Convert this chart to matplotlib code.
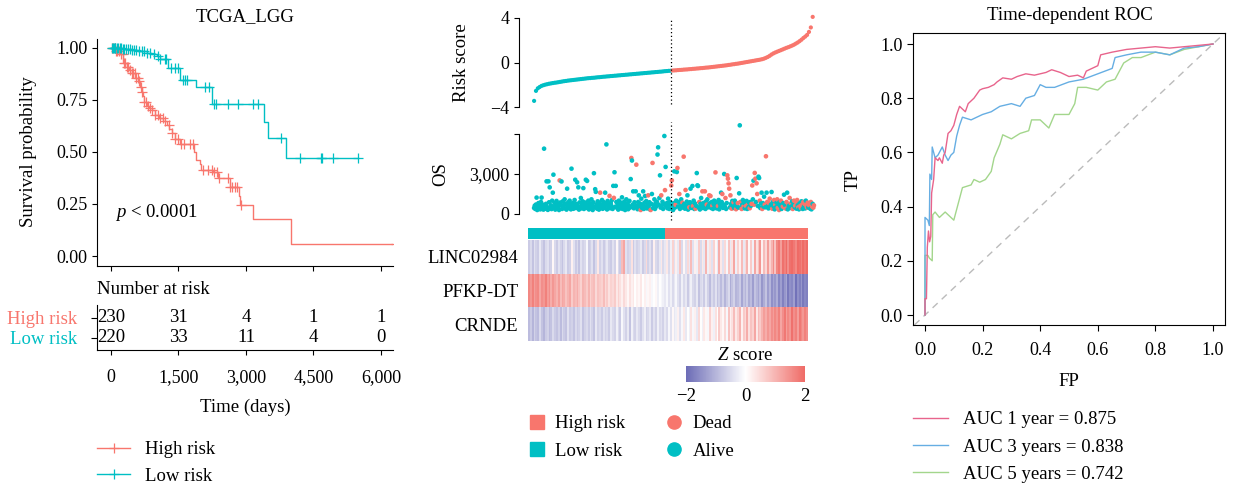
import numpy as np
import matplotlib
matplotlib.use('Agg')
import matplotlib.pyplot as plt
from matplotlib.colors import LinearSegmentedColormap, ListedColormap
from matplotlib.lines import Line2D
from matplotlib.ticker import FuncFormatter

plt.rcParams['font.family'] = ['Liberation Serif', 'DejaVu Serif']
plt.rcParams['mathtext.fontset'] = 'custom'
plt.rcParams['mathtext.rm'] = 'Liberation Serif'
plt.rcParams['mathtext.it'] = 'Liberation Serif:italic'
plt.rcParams['axes.linewidth'] = 0.8

# ---------------- data ----------------
RED, TEAL = '#F8766D', '#00BFC4'

# Kaplan-Meier (High risk)
high_t = [0, 100, 200, 273, 347, 400, 458, 532, 606, 643, 680, 702, 732, 791, 850, 902, 975, 1060,
          1160, 1234, 1300, 1345, 1419, 1530, 1840, 1900, 1973, 2010, 2269, 2380, 2638, 2838, 2860,
          3155, 4005, 6330]
high_s = [1.0, 0.985, 0.97, 0.93, 0.91, 0.895, 0.88, 0.855, 0.84, 0.81, 0.79, 0.77, 0.74, 0.72, 0.71,
          0.70, 0.68, 0.665, 0.65, 0.63, 0.61, 0.59, 0.56, 0.54, 0.50, 0.46, 0.44, 0.413, 0.405, 0.373,
          0.333, 0.29, 0.245, 0.18, 0.06, 0.06]
high_cens = [20, 50, 80, 110, 140, 170, 230, 260, 290, 320, 360, 380, 420, 460, 500, 530, 560, 590, 620,
             660, 700, 740, 780, 820, 870, 920, 980, 1040, 1100, 1150, 1200, 1280, 1350, 1420, 1500, 1560,
             1620, 1750, 1830, 2050, 2150, 2250, 2300, 2350, 2400, 2600, 2650, 2700, 2750, 2800, 2900, 6330]
# Kaplan-Meier (Low risk)
low_t = [0, 250, 450, 600, 790, 900, 1012, 1086, 1271, 1530, 1900, 2240, 3400, 3495, 3895, 5480]
low_s = [1.0, 0.995, 0.99, 0.985, 0.975, 0.97, 0.96, 0.945, 0.905, 0.845, 0.81, 0.732, 0.645, 0.565,
         0.469, 0.469]
low_cens = [20, 40, 60, 80, 100, 130, 160, 190, 220, 260, 300, 340, 380, 420, 470, 520, 560, 620, 680,
            740, 800, 860, 950, 1050, 1100, 1200, 1230, 1330, 1420, 1480, 1600, 1650, 1700, 2100, 2180,
            2300, 2340, 2600, 2820, 3155, 3270, 3780, 4190, 4670, 4700, 4930, 5480]
risk_times = [0, 1500, 3000, 4500, 6000]
risk_high = [230, 31, 4, 1, 1]
risk_low = [220, 33, 11, 4, 0]
pval_text = r'$p$ < 0.0001'

# Risk score (every 3rd ranked patient)
risk_score = [-3.45, -2.55, -2.32, -2.2, -2.1, -2.04, -1.99, -1.95, -1.91, -1.88,
              -1.85, -1.82, -1.8, -1.77, -1.74, -1.71, -1.68, -1.66, -1.63, -1.61,
              -1.59, -1.57, -1.55, -1.53, -1.51, -1.49, -1.47, -1.45, -1.43, -1.41,
              -1.4, -1.38, -1.37, -1.35, -1.33, -1.32, -1.3, -1.28, -1.27, -1.25,
              -1.24, -1.22, -1.21, -1.19, -1.18, -1.16, -1.15, -1.13, -1.12, -1.1,
              -1.09, -1.07, -1.06, -1.04, -1.03, -1.01, -1.0, -0.98, -0.97, -0.95,
              -0.94, -0.92, -0.91, -0.89, -0.88, -0.86, -0.85, -0.83, -0.82, -0.8,
              -0.78, -0.77, -0.75, -0.74, -0.72, -0.71, -0.7, -0.68, -0.67, -0.66,
              -0.64, -0.63, -0.62, -0.6, -0.59, -0.57, -0.56, -0.54, -0.53, -0.51,
              -0.5, -0.48, -0.46, -0.45, -0.43, -0.41, -0.39, -0.37, -0.35, -0.33,
              -0.31, -0.29, -0.27, -0.25, -0.22, -0.2, -0.17, -0.15, -0.12, -0.1,
              -0.07, -0.04, -0.01, 0.02, 0.05, 0.08, 0.11, 0.14, 0.17, 0.2,
              0.23, 0.26, 0.3, 0.35, 0.42, 0.5, 0.6, 0.72, 0.82, 0.9,
              0.97, 1.04, 1.11, 1.18, 1.25, 1.32, 1.38, 1.45, 1.52, 1.6,
              1.7, 1.8, 1.92, 2.05, 2.2, 2.33, 2.48, 2.75, 3.15, 4.1]

# Overall survival (days) of 450 ranked patients
os_days = [450, 620, 380, 710, 1230, 300, 560, 820, 420, 650,
           350, 900, 1230, 480, 700, 330, 4900, 600, 400, 760,
           2450, 520, 310, 2450, 880, 2000, 450, 650, 370, 1000,
           1600, 2950, 540, 820, 330, 690, 980, 420, 760, 560,
           300, 2520, 860, 640, 2440, 380, 950, 520, 700, 1100,
           420, 780, 330, 1900, 600, 880, 460, 1000, 720, 350,
           3400, 540, 820, 390, 680, 1050, 2570, 450, 760, 2380,
           600, 2000, 330, 870, 540, 1200, 420, 700, 950, 1940,
           380, 620, 860, 2570, 460, 2480, 720, 1000, 340, 560,
           800, 430, 1100, 650, 300, 880, 3060, 520, 1860, 1660,
           720, 400, 950, 610, 330, 840, 1600, 480, 700, 1050,
           390, 620, 880, 460, 1600, 750, 5220, 340, 980, 560,
           700, 1360, 430, 820, 610, 1050, 380, 2110, 1210, 3130,
           540, 2110, 900, 460, 680, 330, 1000, 760, 420, 600,
           850, 1250, 380, 700, 520, 940, 300, 660, 1100, 450,
           800, 360, 620, 980, 480, 2620, 4200, 4010, 700, 1700,
           430, 880, 560, 1700, 3700, 640, 360, 900, 1400, 520,
           780, 300, 1150, 460, 690, 1700, 380, 850, 1350, 560,
           970, 420, 700, 1400, 620, 880, 340, 300, 760, 1500,
           3830, 450, 640, 1100, 380, 820, 560, 930, 4460, 5000,
           700, 1200, 2900, 480, 1400, 640, 920, 380, 760, 5850,
           1790, 3530, 560, 820, 430, 1150, 660, 380, 900, 500,
           2140, 2520, 600, 300, 820, 3200, 480, 700, 1000, 3150,
           3450, 560, 900, 1500, 380, 700, 1100, 480, 850, 620,
           4300, 750, 400, 1800, 600, 930, 1400, 330, 700, 500,
           880, 1900, 460, 720, 2100, 600, 1000, 380, 800, 400,
           620, 3070, 2150, 2100, 500, 900, 340, 760, 1200, 560,
           1700, 450, 830, 600, 1700, 380, 950, 700, 1100, 500,
           620, 1400, 800, 1350, 450, 900, 620, 380, 750, 1000,
           500, 3120, 700, 420, 880, 600, 1050, 350, 760, 520,
           1600, 900, 1500, 460, 700, 3000, 560, 1200, 380, 820,
           2900, 2650, 2300, 1900, 500, 1400, 760, 400, 980, 620,
           880, 450, 1000, 700, 360, 2700, 560, 820, 480, 1550,
           6650, 900, 500, 380, 700, 1050, 560, 840, 420, 760,
           600, 980, 380, 700, 520, 850, 430, 900, 620, 760,
           2140, 1100, 2500, 700, 3080, 2650, 900, 2300, 1500, 600,
           2800, 2700, 1000, 450, 780, 1600, 380, 820, 560, 1300,
           700, 500, 4330, 1600, 900, 600, 420, 800, 1150, 550,
           700, 1650, 400, 900, 600, 1050, 350, 700, 500, 850,
           1100, 460, 750, 300, 900, 600, 1000, 380, 700, 560,
           820, 1450, 500, 650, 400, 900, 1600, 350, 700, 620,
           1200, 450, 800, 560, 950, 380, 700, 1000, 520, 620,
           900, 400, 1050, 650, 500, 350, 800, 600, 450, 950,
           700, 380, 900, 560, 760, 420, 1000, 600, 480, 850,
           500, 700, 620, 400, 900, 350, 560, 760, 480, 650]
# ranks (1-based) of patients who died
dead_rank = [42, 107, 122, 129, 157, 165, 172, 184, 188, 191, 205, 211,
             221, 222, 228, 231, 234, 239, 241, 244, 250, 256, 260, 266, 271, 275, 278, 282, 284,
             287, 292, 296, 303, 308, 311, 312, 313, 314, 316, 318, 321, 325, 328, 332, 334, 337,
             341, 344, 347, 350, 351, 354, 355, 356, 358, 359, 363, 367, 371, 373, 375, 378, 379,
             383, 386, 388, 391, 392, 394, 397, 400, 403, 405, 406, 409, 411, 413, 416, 418, 420,
             421, 423, 425, 428, 429, 431, 433, 435, 438, 439, 440, 442, 443, 445, 447, 449, 450]

# Heatmap z-scores (each column = 3 ranked patients)
genes = ['LINC02984', 'PFKP-DT', 'CRNDE']
z_linc = [-0.7, -0.5, -0.8, -0.4, -0.6, -0.7, -0.3, -0.6, -0.8, -0.5, -0.4, -0.7, -0.6, 0.1, -0.5,
          -0.7, -0.4, -0.6, -0.8, -0.5, -0.3, -0.7, -0.6, 0.2, -0.4, -0.7, -0.5, -0.8, -0.4, -0.6,
          -0.5, -0.1, -0.7, -0.6, -0.4, -0.8, -0.5, 0.3, -0.6, -0.4, -0.7, -0.5, -0.3, -0.6, -0.7,
          -0.4, -0.6, 0.1, -0.5, -0.7, 0.9, 1.2, -0.4, -0.6, -0.5, 0.4, -0.7, -0.4, -0.6, -0.5,
          -0.3, -0.7, -0.5, 0.5, -0.6, -0.4, -0.7, 0.2, -0.5, -0.6, -0.3, 0.3, -0.5,
          -0.3, 0.3, -0.5, -0.2, 0.6, -0.4, 0.2, -0.3, 0.8, -0.5, 0.1, -0.4, 0.5, -0.3, 0.9,
          -0.4, 0.2, -0.2, 0.7, -0.5, 0.3, -0.3, 1.0, -0.2, 0.4, -0.4, 0.6, 0.1, -0.3, 1.1,
          0.3, -0.4, 0.5, -0.1, 0.8, -0.3, 0.4, 1.2, -0.2, 0.6, 0.2, 0.9, -0.3, 0.5, 1.0,
          0.1, 0.7, -0.2, 1.2, 0.4, 0.8, 1.4, 0.2, 0.9, 0.5, 1.3, 0.6, 1.0, 1.5, 0.8,
          1.6, 1.8, 1.3, 1.9, 1.7, 2.0, 1.5, 1.9, 2.0, 1.8, 1.6, 2.0, 1.9, 1.7, 2.0, 1.8, 2.0]
z_pfkp = [1.6, 1.4, 1.7, 1.3, 1.5, 1.6, 1.2, 1.5, 1.4, 1.7, 1.3, 1.5, 1.1, 1.4, 1.2,
          1.0, 1.3, 0.9, 1.2, 1.1, 0.8, 1.0, 1.2, 0.7, 1.0, 0.9, 1.1, 0.8, 0.6, 1.0,
          0.9, 0.7, 1.0, 0.6, 0.8, 0.9, 0.5, 0.8, 0.7, 0.6, 0.9, 0.5, 0.7, 0.4, 0.6,
          0.5, 0.7, 0.3, 0.6, 0.4, 0.2, 0.5, 0.3, 0.1, 0.4, 0.2, 0.3, 0.0, 0.2, 0.1,
          0.3, 0.0, 0.2, -0.1, 0.1, 0.2, -0.1, 0.0, 0.1, -0.2, 0.0, -0.1, -0.2,
          -0.3, -0.1, -0.4, -0.2, -0.5, -0.3, -0.1, -0.4, -0.6, -0.2, -0.5, -0.3, -0.7, -0.4, -0.2,
          -0.5, -0.6, -0.3, -0.8, -0.5, -0.4, -0.7, -0.3, -0.6, -0.9, -0.5, -0.7, -0.4, -0.8, -0.6,
          -0.9, -0.6, -1.0, -0.7, -0.5, -1.1, -0.8, -0.6, -1.0, -0.9, -0.7, -1.2, -0.8, -1.0, -0.7,
          -1.1, -0.9, -1.3, -0.8, -1.0, -1.2, -0.9, -1.4, -1.1, -0.8, -1.3, -1.0, -1.5, -1.2, -1.4,
          -1.1, -1.6, -1.3, -1.7, -1.4, -1.2, -1.8, -1.5, -1.6, -1.3, -1.9, -1.5, -1.7, -1.4, -1.8, -1.6, -1.7]
z_crnde = [-0.9, -0.7, -1.0, -0.6, -0.8, -0.9, -0.5, -0.8, -1.0, -0.7, -0.6, -0.9, -0.8, -0.5, -0.7,
           -0.8, -0.6, -0.9, -0.5, -0.7, -0.8, -0.4, -0.7, -0.6, -0.8, -0.5, -0.7, -0.6, -0.4, -0.8,
           -0.6, -0.5, -0.7, -0.4, -0.6, -0.8, -0.3, -0.6, -0.5, -0.7, -0.4, -0.6, -0.5, -0.7, -0.3,
           -0.5, -0.6, -0.2, -0.5, -0.7, -0.1, -0.4, -0.6, -0.3, -0.8, -0.2, -0.5, -0.6, -0.3, -0.5,
           -0.7, -0.4, -0.2, -0.6, -0.5, -0.3, -0.7, -0.4, -0.6, -0.2, -0.5, -0.4, -0.6,
           -0.3, -0.5, -0.1, -0.4, 0.1, -0.3, -0.2, 0.2, -0.4, -0.1, 0.3, -0.3, 0.0, -0.2, 0.4,
           -0.1, 0.2, -0.3, 0.5, 0.0, -0.2, 0.3, 0.1, -0.1, 0.6, 0.2, -0.2, 0.4, 0.0, 0.7,
           0.3, 0.1, 0.5, -0.1, 0.8, 0.2, 0.4, 0.9, 0.3, 0.6, 1.0, 0.2, 0.7, 0.5, 1.1,
           0.4, 0.8, 0.6, 1.2, 0.3, 0.9, 0.7, 1.0, 1.3, 1.1, 1.4, 1.2, 1.5, 1.3, 1.6,
           1.4, 1.7, 1.2, 1.5, 1.8, 1.3, 1.6, 1.4, 1.9, 1.5, 1.7, 1.3, 1.8, 1.6, 1.4, 1.7, 1.5]

# Time-dependent ROC
roc1_fp = [0, 0, 0.005, 0.008, 0.012, 0.016, 0.02, 0.023, 0.03, 0.035, 0.045, 0.05, 0.06, 0.065, 0.07,
           0.08, 0.09, 0.1, 0.11, 0.12, 0.13, 0.14, 0.15, 0.17, 0.19, 0.2, 0.22, 0.24, 0.25, 0.27, 0.3,
           0.32, 0.35, 0.38, 0.4, 0.42, 0.44, 0.47, 0.5, 0.53, 0.55, 0.56, 0.58, 0.6, 0.61, 0.65, 0.7,
           0.75, 0.8, 0.85, 0.9, 0.95, 1.0]
roc1_tp = [0, 0.06, 0.06, 0.25, 0.31, 0.27, 0.29, 0.45, 0.5, 0.58, 0.57, 0.58, 0.56, 0.59, 0.6, 0.67,
           0.68, 0.7, 0.74, 0.77, 0.76, 0.75, 0.78, 0.8, 0.83, 0.835, 0.84, 0.85, 0.86, 0.875, 0.87,
           0.88, 0.89, 0.885, 0.89, 0.895, 0.905, 0.895, 0.88, 0.885, 0.875, 0.9, 0.91, 0.92, 0.96,
           0.97, 0.98, 0.985, 0.99, 0.985, 0.99, 0.995, 1.0]
roc3_fp = [0, 0, 0.01, 0.015, 0.017, 0.023, 0.025, 0.035, 0.045, 0.05, 0.06, 0.07, 0.08, 0.09, 0.1,
           0.11, 0.12, 0.13, 0.16, 0.2, 0.23, 0.26, 0.3, 0.33, 0.35, 0.38, 0.4, 0.42, 0.45, 0.5, 0.55,
           0.6, 0.65, 0.66, 0.7, 0.75, 0.8, 0.85, 0.9, 0.95, 1.0]
roc3_tp = [0, 0.36, 0.35, 0.33, 0.52, 0.5, 0.62, 0.58, 0.59, 0.6, 0.62, 0.59, 0.57, 0.59, 0.6, 0.66,
           0.7, 0.73, 0.72, 0.74, 0.75, 0.77, 0.78, 0.77, 0.8, 0.81, 0.85, 0.84, 0.84, 0.86, 0.87, 0.89,
           0.91, 0.95, 0.96, 0.97, 0.97, 0.96, 0.985, 0.99, 1.0]
roc5_fp = [0, 0, 0.01, 0.015, 0.025, 0.027, 0.035, 0.05, 0.07, 0.09, 0.1, 0.11, 0.13, 0.16, 0.17,
           0.19, 0.21, 0.23, 0.24, 0.26, 0.27, 0.3, 0.33, 0.36, 0.37, 0.4, 0.43, 0.45, 0.5, 0.52, 0.53,
           0.56, 0.6, 0.63, 0.66, 0.69, 0.72, 0.75, 0.8, 0.85, 0.9, 0.95, 1.0]
roc5_tp = [0, 0.22, 0.22, 0.21, 0.2, 0.37, 0.38, 0.36, 0.38, 0.36, 0.35, 0.39, 0.47, 0.48, 0.5, 0.49,
           0.5, 0.53, 0.58, 0.63, 0.665, 0.65, 0.67, 0.68, 0.72, 0.72, 0.69, 0.74, 0.74, 0.78, 0.84,
           0.84, 0.83, 0.86, 0.87, 0.93, 0.95, 0.95, 0.97, 0.96, 0.98, 0.99, 1.0]
auc_labels = ['AUC 1 year = 0.875', 'AUC 3 years = 0.838', 'AUC 5 years = 0.742']
roc_colors = ['#E8648C', '#66AEE3', '#A3D68C']

# ---------------- figure ----------------
W, H = 1233, 492
fig = plt.figure(figsize=(W / 100, H / 100), dpi=100)
FS = 13.5
TFS = 13


def add_ax(x0, y0, x1, y1, **kw):
    return fig.add_axes([x0 / W, 1 - y1 / H, (x1 - x0) / W, (y1 - y0) / H], **kw)


def ftext(x, y, s, **kw):
    kw.setdefault('fontsize', FS)
    return fig.text(x / W, 1 - y / H, s, **kw)


def style(ax):
    ax.tick_params(direction='out', length=3.5, width=0.8, labelsize=TFS, colors='black')
    for s in ['top', 'right']:
        ax.spines[s].set_visible(False)


def step_value(ts, ss, t):
    i = np.searchsorted(np.asarray(ts), np.asarray(t), side='right') - 1
    return np.asarray(ss)[i]


# ---- Panel 1: KM ----
ax = add_ax(97, 39, 393, 266)
style(ax)
ax.step(high_t, high_s, where='post', color=RED, lw=1)
ax.step(low_t, low_s, where='post', color=TEAL, lw=1)
ax.plot(high_cens, step_value(high_t, high_s, high_cens), '+', color=RED, ms=7.5, mew=0.9)
ax.plot(low_cens, step_value(low_t, low_s, low_cens), '+', color=TEAL, ms=7.5, mew=0.9)
ax.set_xlim(-311, 6267)
ax.set_ylim(-0.048, 1.043)
ax.set_yticks([0, 0.25, 0.5, 0.75, 1.0])
ax.set_yticklabels(['0.00', '0.25', '0.50', '0.75', '1.00'])
ax.set_xticks(risk_times)
ax.set_xticklabels([])
ax.text(100, 0.21, pval_text, fontsize=FS, va='center', ha='left')
ftext(245, 17, 'TCGA_LGG', ha='center', va='center')
ftext(29, 152, 'Survival probability', rotation=90, ha='center', va='center')

# risk table
axr = add_ax(97, 305, 393, 350)
style(axr)
axr.set_xlim(-311, 6267)
axr.set_ylim(-0.6, 1.65)
axr.set_yticks([1, 0])
axr.set_yticklabels(['High risk', 'Low risk'], fontsize=FS)
for lab, c in zip(axr.get_yticklabels(), [RED, TEAL]):
    lab.set_color(c)
axr.tick_params(axis='y', length=4.5, pad=10)
axr.set_xticks(risk_times)
axr.set_xticklabels(['{:,}'.format(t) for t in risk_times])
axr.tick_params(axis='x', pad=10)
for t, a, b in zip(risk_times, risk_high, risk_low):
    axr.text(t, 1, str(a), ha='center', va='center', fontsize=FS)
    axr.text(t, 0, str(b), ha='center', va='center', fontsize=FS)
ftext(97, 289, 'Number at risk', ha='left', va='center')
ftext(245, 407, 'Time (days)', ha='center', va='center')
km_handles = [Line2D([], [], color=RED, lw=1, marker='+', ms=7.5, mew=0.9),
              Line2D([], [], color=TEAL, lw=1, marker='+', ms=7.5, mew=0.9)]
fig.legend(km_handles, ['High risk', 'Low risk'], loc='upper left',
           bbox_to_anchor=(97 / W, 1 - 441 / H), frameon=False, fontsize=FS,
           handlelength=1.76, handletextpad=0.8, labelspacing=0.5, borderpad=0, borderaxespad=0)

# ---- Panel 2: risk score ----
n = len(os_days)
n_low = risk_low[0]
rank = np.arange(1, n + 1)
rs_rank = np.linspace(1, n - 2, len(risk_score))
px_per = 278 / 449
xl = (1 - 15 / px_per, n + 8 / px_per)

ax1 = add_ax(519, 12, 822, 112)
style(ax1)
ax1.spines['bottom'].set_visible(False)
ax1.set_xticks([])
rs_col = np.where(rs_rank <= n_low, TEAL, RED)
ax1.scatter(rs_rank, risk_score, s=9, c=rs_col, linewidths=0)
ax1.set_xlim(*xl)
ax1.set_ylim(-4 - 5 / 11.125, 4 + 6 / 11.125)
ax1.spines['left'].set_bounds(-4, 4)
ax1.set_yticks([-4, 0, 4])
ax1.axvline(n_low + 0.5, ymin=0.08, ymax=0.92, color='black', ls=(0, (1, 2)), lw=0.9)
ftext(461, 63, 'Risk score', rotation=90, ha='center', va='center')

ax2 = add_ax(519, 122, 822, 222)
style(ax2)
ax2.spines['bottom'].set_visible(False)
ax2.set_xticks([])
dead = np.isin(rank, dead_rank)
ax2.scatter(rank, os_days, s=11, c=np.where(dead, RED, TEAL), linewidths=0)
ax2.set_xlim(*xl)
ax2.set_ylim(-600, 6900)
ax2.spines['left'].set_bounds(0, 6000)
ax2.set_yticks([0, 3000, 6000])
ax2.set_yticklabels(['0', '3,000', ''])
ax2.axvline(n_low + 0.5, ymin=0.02, ymax=1.0, color='black', ls=(0, (1, 2)), lw=0.9)
ftext(441, 174, 'OS', rotation=90, ha='center', va='center')

# group bar
axg = add_ax(528, 228, 808, 239)
axg.imshow((rank > n_low).astype(int)[None, :], aspect='auto', cmap=ListedColormap([TEAL, RED]),
           interpolation='nearest', extent=(0.5, n + 0.5, 0, 1))
axg.set_axis_off()

# heatmap
zcmap = LinearSegmentedColormap.from_list('z', ['#6C6CB6', '#FFFFFF', '#EF6B66'])
axh = add_ax(528, 240, 808, 341)
im = axh.imshow(np.array([z_linc, z_pfkp, z_crnde]), aspect='auto', cmap=zcmap, vmin=-2, vmax=2,
                interpolation='nearest')
axh.set_yticks(range(len(genes)))
axh.set_yticklabels(genes, fontsize=FS)
axh.set_xticks([])
axh.tick_params(axis='y', length=0, pad=7)
for s in axh.spines.values():
    s.set_visible(False)

cax = add_ax(686, 366, 805, 382)
cb = fig.colorbar(im, cax=cax, orientation='horizontal')
cb.outline.set_visible(False)
cb.set_ticks([-2, 0, 2])
cax.tick_params(length=0, labelsize=FS, pad=4)
ftext(745, 355, r'$Z$ score', ha='center', va='center')

sq_handles = [Line2D([], [], ls='none', marker='s', ms=9.5, color=RED),
              Line2D([], [], ls='none', marker='s', ms=9.5, color=TEAL)]
fig.legend(sq_handles, ['High risk', 'Low risk'], loc='upper left',
           bbox_to_anchor=(528 / W, 1 - 415 / H), frameon=False, fontsize=FS,
           handlelength=1.0, handletextpad=0.46, labelspacing=0.55, borderpad=0, borderaxespad=0)
ci_handles = [Line2D([], [], ls='none', marker='o', ms=9.5, color=RED),
              Line2D([], [], ls='none', marker='o', ms=9.5, color=TEAL)]
fig.legend(ci_handles, ['Dead', 'Alive'], loc='upper left',
           bbox_to_anchor=(665 / W, 1 - 415 / H), frameon=False, fontsize=FS,
           handlelength=1.0, handletextpad=0.46, labelspacing=0.55, borderpad=0, borderaxespad=0)

# ---- Panel 3: ROC ----
ax3 = add_ax(913, 33, 1225, 325)
ax3.tick_params(direction='out', length=4, width=0.8, labelsize=TFS)
ax3.axline((0, 0), (1, 1), color='#BBBBBB', ls=(0, (5, 4)), lw=1)
h5, = ax3.plot(roc5_fp, roc5_tp, color=roc_colors[2], lw=1)
h3, = ax3.plot(roc3_fp, roc3_tp, color=roc_colors[1], lw=1)
h1, = ax3.plot(roc1_fp, roc1_tp, color=roc_colors[0], lw=1)
ax3.set_xlim(-0.0417, 1.0417)
ax3.set_ylim(-0.0369, 1.0406)
ax3.set_xticks([0, 0.2, 0.4, 0.6, 0.8, 1.0])
ax3.set_yticks([0, 0.2, 0.4, 0.6, 0.8, 1.0])
ax3.xaxis.set_major_formatter(FuncFormatter(lambda v, p: '{:.1f}'.format(v)))
ax3.yaxis.set_major_formatter(FuncFormatter(lambda v, p: '{:.1f}'.format(v)))
ax3.tick_params(axis='x', pad=8)
ftext(1070, 15, 'Time-dependent ROC', ha='center', va='center')
ftext(1069, 382, 'FP', ha='center', va='center')
ftext(853, 180, 'TP', rotation=90, ha='center', va='center')
fig.legend([h1, h3, h5], auc_labels, loc='upper left',
           bbox_to_anchor=(913 / W, 1 - 411 / H), frameon=False, fontsize=FS,
           handlelength=1.87, handletextpad=0.8, labelspacing=0.55, borderpad=0, borderaxespad=0)

fig.savefig('out.png', dpi=100)
